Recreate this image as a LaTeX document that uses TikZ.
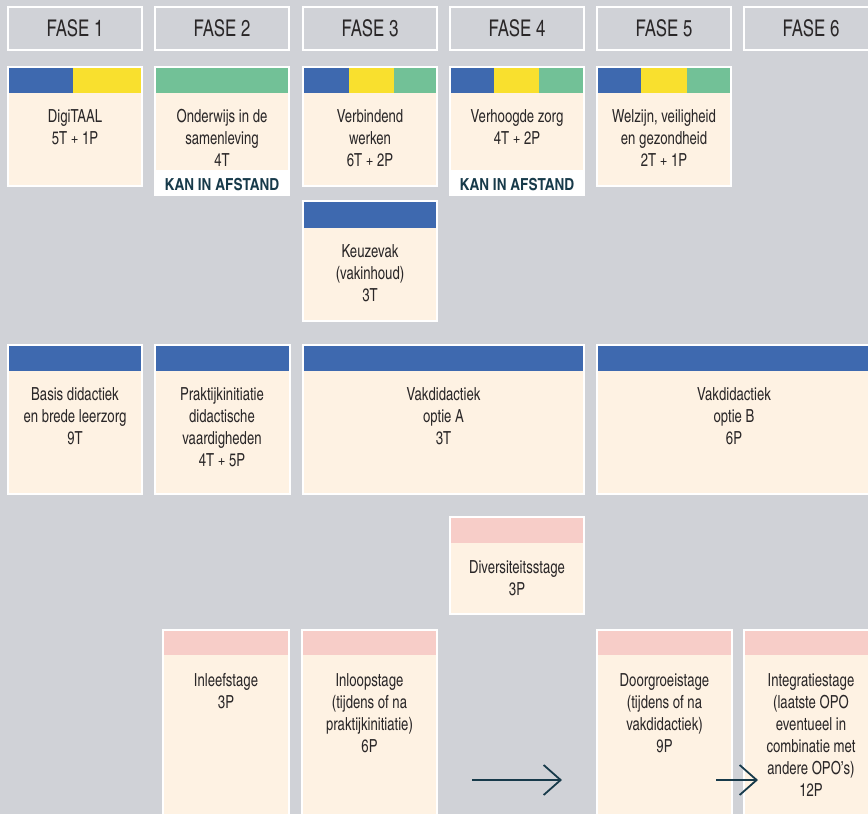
\documentclass[tikz,border=0pt]{standalone}
\usepackage{fontspec}
\setmainfont{texgyreheroscn}[Extension=.otf, UprightFont=*-regular, BoldFont=*-bold]
\newfontfamily\smalfont{texgyreheroscn}[Extension=.otf, UprightFont=*-regular, FakeStretch=0.89]
\usetikzlibrary{arrows.meta}
\definecolor{bg}{HTML}{D0D2D7}
\definecolor{cream}{HTML}{FEF2E3}
\definecolor{vblue}{HTML}{3E69AF}
\definecolor{vyellow}{HTML}{F9E02E}
\definecolor{vgreen}{HTML}{72C197}
\definecolor{vpink}{HTML}{F7CDC8}
\definecolor{txt}{HTML}{2A2728}
\definecolor{navy}{HTML}{173A4A}
\tikzset{
  fasebox/.style={draw=white, line width=1pt, minimum width=67pt, minimum height=21.5pt,
    inner sep=0pt, text=txt, font=\smalfont\fontsize{11.5}{13}\selectfont},
  rim/.style={draw=white, line width=1pt},
  lbl/.style={align=center, anchor=north, inner sep=0pt, text=txt, font=\smalfont\fontsize{9}{11}\selectfont},
  afstand/.style={inner sep=0pt, text=navy, font=\bfseries\fontsize{8.3}{10}\selectfont},
  pijl/.style={draw=navy, line width=0.9pt, -{Straight Barb[length=8.5pt, width=15pt]}}
}

\begin{document}
\begin{tikzpicture}[x=0.5pt, y=-0.5pt]
    \path[use as bounding box, fill=bg] (0,0) rectangle (868,814);
    \clip (0,0) rectangle (868,814);

    % fasen
    \foreach \i/\x in {1/75,2/222,3/370,4/517,5/664,6/811}
      \node[fasebox] (fase\i) at (\x,28.5) {FASE \i};

    % rij 1
    \fill[cream] (8,67) rectangle (142,186);
    \fill[vblue] (8,67) rectangle (73,93);
    \fill[vyellow] (73,67) rectangle (142,93);
    \draw[rim] (8,67) rectangle (142,186);
    \node[lbl] (digitaal) at (75,109) {DigiTAAL\\5T + 1P};

    \fill[white] (155,67) rectangle (289,195);
    \fill[cream] (155,67) rectangle (289,170);
    \fill[vgreen] (155,67) rectangle (289,93);
    \draw[rim] (155,67) rectangle (289,195);
    \node[lbl] (onderwijs) at (222,109) {Onderwijs in de\\samenleving\\4T};
    \node[afstand] (afstand2) at (222,184.5) {KAN IN AFSTAND};

    \fill[cream] (303,67) rectangle (437,186);
    \fill[vblue] (303,67) rectangle (349,93);
    \fill[vyellow] (349,67) rectangle (394,93);
    \fill[vgreen] (394,67) rectangle (437,93);
    \draw[rim] (303,67) rectangle (437,186);
    \node[lbl] (verbindend) at (370,109) {Verbindend\\werken\\6T + 2P};

    \fill[white] (450,67) rectangle (584,195);
    \fill[cream] (450,67) rectangle (584,170);
    \fill[vblue] (450,67) rectangle (494,93);
    \fill[vyellow] (494,67) rectangle (539,93);
    \fill[vgreen] (539,67) rectangle (584,93);
    \draw[rim] (450,67) rectangle (584,195);
    \node[lbl] (zorg) at (517,109) {Verhoogde zorg\\4T + 2P};
    \node[afstand] (afstand4) at (517,184.5) {KAN IN AFSTAND};

    \fill[cream] (597,67) rectangle (731,186);
    \fill[vblue] (597,67) rectangle (641,93);
    \fill[vyellow] (641,67) rectangle (687,93);
    \fill[vgreen] (687,67) rectangle (731,93);
    \draw[rim] (597,67) rectangle (731,186);
    \node[lbl] (welzijn) at (664,109) {Welzijn, veiligheid\\en gezondheid\\2T + 1P};

    \fill[cream] (303,201) rectangle (437,321);
    \fill[vblue] (303,201) rectangle (437,228);
    \draw[rim] (303,201) rectangle (437,321);
    \node[lbl] (keuzevak) at (370,244) {Keuzevak\\(vakinhoud)\\3T};

    % rij 2
    \fill[cream] (8,345) rectangle (142,494);
    \fill[vblue] (8,345) rectangle (142,371);
    \draw[rim] (8,345) rectangle (142,494);
    \node[lbl] (basis) at (75,387) {Basis didactiek\\en brede leerzorg\\9T};

    \fill[cream] (155,345) rectangle (290,494);
    \fill[vblue] (155,345) rectangle (290,371);
    \draw[rim] (155,345) rectangle (290,494);
    \node[lbl] (praktijk) at (222,387) {Praktijkinitiatie\\didactische\\vaardigheden\\4T + 5P};

    \fill[cream] (303,345) rectangle (584,494);
    \fill[vblue] (303,345) rectangle (584,371);
    \draw[rim] (303,345) rectangle (584,494);
    \node[lbl] (vakA) at (443.5,387) {Vakdidactiek\\optie A\\3T};

    \fill[cream] (597,345) rectangle (871,494);
    \fill[vblue] (597,345) rectangle (871,371);
    \draw[rim] (597,345) rectangle (871,494);
    \node[lbl] (vakB) at (734,387) {Vakdidactiek\\optie B\\6P};

    % stages
    \fill[cream] (450,517) rectangle (584,614);
    \fill[vpink] (450,517) rectangle (584,543);
    \draw[rim] (450,517) rectangle (584,614);
    \node[lbl] (diversiteit) at (517,560) {Diversiteitsstage\\3P};

    \fill[cream] (163,630) rectangle (289,820);
    \fill[vpink] (163,630) rectangle (289,655);
    \draw[rim] (163,630) rectangle (289,820);
    \node[lbl] (inleef) at (226,673) {Inleefstage\\3P};

    \fill[cream] (302,630) rectangle (437,820);
    \fill[vpink] (302,630) rectangle (437,655);
    \draw[rim] (302,630) rectangle (437,820);
    \node[lbl] (inloop) at (369.5,673) {Inloopstage\\(tijdens of na\\praktijkinitiatie)\\6P};

    \fill[cream] (597,630) rectangle (732,820);
    \fill[vpink] (597,630) rectangle (732,655);
    \draw[rim] (597,630) rectangle (732,820);
    \node[lbl] (doorgroei) at (664.5,673) {Doorgroeistage\\(tijdens of na\\vakdidactiek)\\9P};

    \fill[cream] (744,630) rectangle (878,820);
    \fill[vpink] (744,630) rectangle (878,655);
    \draw[rim] (744,630) rectangle (878,820);
    \node[lbl] (integratie) at (811,673) {Integratiestage\\(laatste OPO\\eventueel in\\combinatie met\\andere OPO’s)\\12P};

    % pijlen
    \coordinate (p1a) at (472,780);
    \coordinate (p1b) at (562,780);
    \coordinate (p2a) at (716,780);
    \coordinate (p2b) at (758,780);
    \draw[pijl] (p1a) -- (p1b);
    \draw[pijl] (p2a) -- (p2b);
  \end{tikzpicture}
\end{document}
